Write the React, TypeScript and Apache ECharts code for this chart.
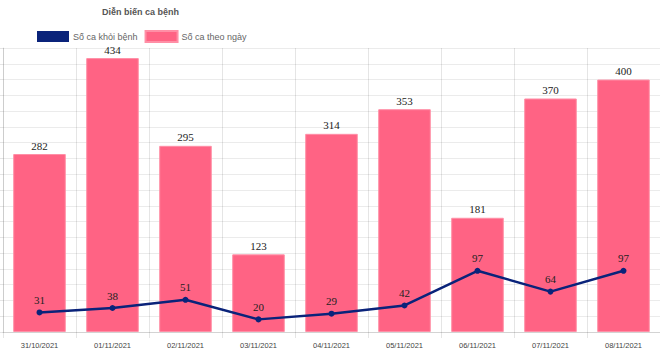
import React, { useEffect, useRef } from "react";
import * as echarts from "echarts";

const categories = ["31/10/2021", "01/11/2021", "02/11/2021", "03/11/2021", "04/11/2021", "05/11/2021", "06/11/2021", "07/11/2021", "08/11/2021"];
const dailyCases = [282, 434, 295, 123, 314, 353, 181, 370, 400];
const recovered = [31, 38, 51, 20, 29, 42, 97, 64, 97];
const titleText = "Diễn biến ca bệnh";
const lineName = "Số ca khỏi bệnh";
const barName = "Số ca theo ngày";

export default function App() {
  const ref = useRef<HTMLDivElement>(null);
  useEffect(() => {
    if (!ref.current) return;
    const chart = echarts.init(ref.current, null, { renderer: "svg" });
    const gridColor = "rgba(0,0,0,0.1)";
    chart.setOption({
      animation: false,
      title: {
        text: titleText,
        left: 102,
        top: 7,
        padding: 0,
        textStyle: { fontSize: 9, fontWeight: "bold", color: "#555", fontFamily: "Liberation Sans, Arial, sans-serif" },
      },
      legend: {
        data: [lineName, barName],
        left: 37,
        top: 30,
        padding: 0,
        icon: "rect",
        itemWidth: 32,
        itemHeight: 11,
        itemGap: 7,
        textStyle: { fontSize: 9, color: "#666", fontFamily: "Liberation Sans, Arial, sans-serif", padding: [0, 0, 0, -1] },
      },
      grid: { left: 3, top: 48, width: 664, height: 284, containLabel: false },
      xAxis: {
        type: "category",
        data: categories,
        boundaryGap: true,
        axisLine: { show: true, lineStyle: { color: gridColor } },
        axisTick: { show: true, length: 6, lineStyle: { color: gridColor } },
        splitLine: { show: true, lineStyle: { color: gridColor } },
        axisLabel: { fontSize: 7.5, color: "#444", margin: 9, fontFamily: "Liberation Sans, Arial, sans-serif" },
      },
      yAxis: {
        type: "value",
        min: 0,
        max: 450,
        interval: 25,
        axisLabel: { show: false },
        axisLine: { show: true, lineStyle: { color: gridColor } },
        axisTick: { show: true, length: 3, lineStyle: { color: gridColor } },
        splitLine: { show: true, lineStyle: { color: "rgba(0,0,0,0.08)" } },
      },
      series: [
        {
          name: barName,
          type: "bar",
          data: dailyCases,
          barCategoryGap: "28%",
          itemStyle: { color: "#ff6384", borderColor: "#ff8fa6", borderWidth: 1 },
          label: { show: true, position: "top", distance: 3, fontSize: 11, color: "#222", fontFamily: "Liberation Serif, Times New Roman, serif" },
          z: 1,
        },
        {
          name: lineName,
          type: "line",
          data: recovered,
          symbol: "circle",
          symbolSize: 6,
          lineStyle: { color: "#0a237a", width: 2.5 },
          itemStyle: { color: "#0a237a" },
          label: { show: true, position: "top", distance: 4, fontSize: 11, color: "#222", fontFamily: "Liberation Serif, Times New Roman, serif" },
          z: 3,
        },
      ],
    });
    return () => chart.dispose();
  }, []);
  return <div ref={ref} style={{ position: "absolute", left: 0, top: 0, width: 660, height: 350, overflow: "hidden" }} />;
}
